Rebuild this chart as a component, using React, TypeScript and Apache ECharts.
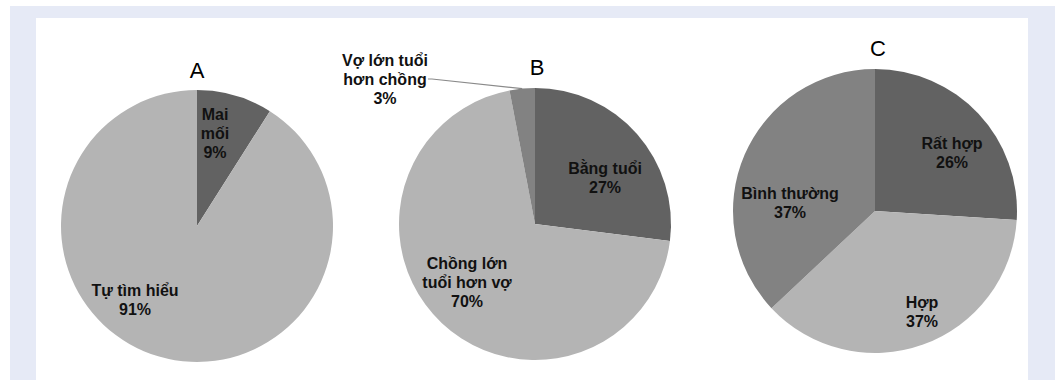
import React, { useEffect, useRef } from "react";
import * as echarts from "echarts";

// Pie A: how couples met
const titleA = "A";
const namesA = ["Mai\nmối", "Tự tìm hiểu"];
const valuesA = [9, 91];

// Pie B: age difference
const titleB = "B";
const namesB = ["Bằng tuổi", "Chồng lớn\ntuổi hơn vợ", "Vợ lớn tuổi\nhơn chồng"];
const valuesB = [27, 70, 3];

// Pie C: compatibility
const titleC = "C";
const namesC = ["Rất hợp", "Hợp", "Bình thường"];
const valuesC = [26, 37, 37];

const DARK = "#626262";
const LIGHT = "#b4b4b4";
const MEDIUM = "#828282";
const FONT = "'Liberation Sans', Arial, sans-serif";

// Geometry of each pie and where its labels sit
const pies = [
  {
    title: titleA, names: namesA, values: valuesA, colors: [DARK, LIGHT],
    center: [197, 226], radius: 136, titleAt: [197, 70],
    labelAt: [[215, 133], [135, 300]],
  },
  {
    title: titleB, names: namesB, values: valuesB, colors: [DARK, LIGHT, MEDIUM],
    center: [535, 224], radius: 136, titleAt: [537, 67],
    labelAt: [[605, 178], [467, 282], [385, 79]],
  },
  {
    title: titleC, names: namesC, values: valuesC, colors: [DARK, LIGHT, MEDIUM],
    center: [875, 211], radius: 142, titleAt: [878, 48],
    labelAt: [[952, 153], [922, 312], [790, 203]],
  },
];

export default function App() {
  const ref = useRef<HTMLDivElement>(null);

  useEffect(() => {
    document.body.style.margin = "0";
    if (!ref.current) return;
    const chart = echarts.init(ref.current, undefined, { renderer: "svg" });

    const series = pies.map((p) => ({
      type: "pie",
      center: p.center,
      radius: p.radius,
      startAngle: 90,
      clockwise: true,
      silent: true,
      avoidLabelOverlap: false,
      data: p.values.map((v, i) => {
        const outside = p.values[i] < 5;
        return {
          name: p.names[i],
          value: v,
          itemStyle: { color: p.colors[i] },
          label: { position: outside ? "outside" : "inside" },
          labelLine: outside
            ? { show: true, length: 4, length2: 4, smooth: false, lineStyle: { color: "#8a8a8a", width: 1.2 } }
            : { show: false },
        };
      }),
      label: {
        show: true,
        formatter: "{b}\n{c}%",
        fontFamily: FONT,
        fontWeight: "bold",
        fontSize: 16,
        lineHeight: 19,
        color: "#111",
        align: "center",
      },
      labelLayout: (params: any) => {
        const at = p.labelAt[params.dataIndex];
        return { x: at[0], y: at[1], align: "center", verticalAlign: "middle" };
      },
    }));

    const titles = pies.map((p) => ({
      type: "text",
      x: p.titleAt[0],
      y: p.titleAt[1],
      z: 10,
      style: {
        text: p.title,
        fontFamily: FONT,
        fontSize: 22,
        fill: "#000",
        align: "center",
        verticalAlign: "middle",
      },
    }));

    chart.setOption({
      animation: false,
      backgroundColor: "#ffffff",
      graphic: [
        { type: "rect", z: -10, shape: { x: 10, y: 6, width: 1045, height: 380 }, style: { fill: "#e6eaf6" } },
        { type: "rect", z: -9, shape: { x: 36, y: 18, width: 992, height: 370 }, style: { fill: "#ffffff" } },
        ...titles,
      ],
      series,
    });

    return () => chart.dispose();
  }, []);

  return <div ref={ref} style={{ width: 1058, height: 380 }} />;
}
